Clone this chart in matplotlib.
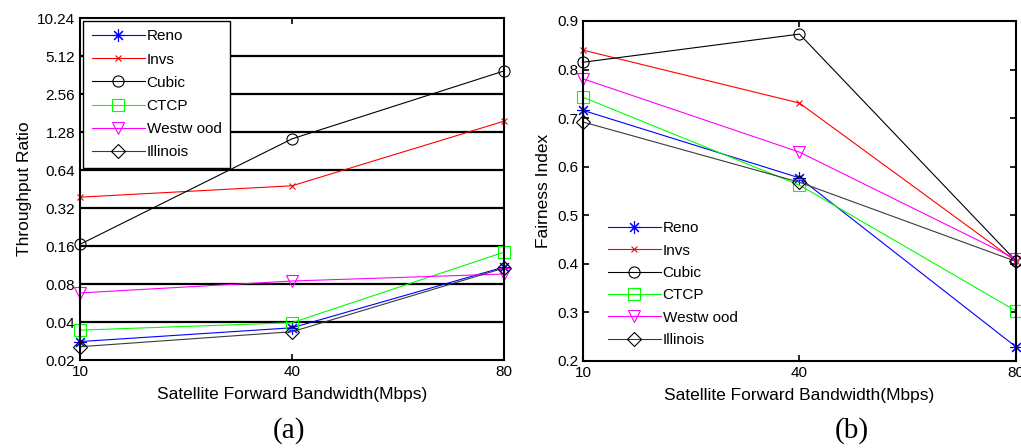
import numpy as np
import matplotlib
matplotlib.use("Agg")
from matplotlib import pyplot as plt

plt.rcParams['font.family'] = ['Liberation Sans', 'DejaVu Sans']

# bandwidth categories (equally spaced on the x axis)
bandwidths = ['10', '40', '80']
names = ['Reno', 'Invs', 'Cubic', 'CTCP', 'Westw ood', 'Illinois']

# (a) throughput ratio (log2 axis)
thr_reno = [0.028, 0.036, 0.109]
thr_invs = [0.39, 0.48, 1.56]
thr_cubic = [0.165, 1.13, 3.9]
thr_ctcp = [0.0345, 0.0395, 0.143]
thr_westwood = [0.068, 0.0845, 0.096]
thr_illinois = [0.0255, 0.0335, 0.107]

# (b) fairness index
fair_reno = [0.716, 0.577, 0.229]
fair_invs = [0.84, 0.731, 0.405]
fair_cubic = [0.815, 0.873, 0.406]
fair_ctcp = [0.743, 0.562, 0.303]
fair_westwood = [0.781, 0.63, 0.41]
fair_illinois = [0.692, 0.568, 0.405]

yticks_a = [0.02, 0.04, 0.08, 0.16, 0.32, 0.64, 1.28, 2.56, 5.12, 10.24]
yticks_b = [0.2, 0.3, 0.4, 0.5, 0.6, 0.7, 0.8, 0.9]

# colour, marker, marker size for each protocol
styles = [
    ('#0000ff', (8, 2, 0), 9),
    ('#ff0000', 'x', 5),
    ('#000000', 'o', 8),
    ('#00ff00', 's', 9),
    ('#ff00ff', 'v', 9),
    ('#3a3a3a', 'D', 7),
]

def draw(ax, series):
    x = np.arange(len(bandwidths))
    for vals, name, (col, mk, ms) in zip(series, names, styles):
        mec = '#000000' if name == 'Illinois' else col
        ax.plot(x, vals, color=col, lw=0.8, marker=mk, ms=ms,
                mfc='none', mec=mec, mew=0.8, label=name, clip_on=False)
    ax.set_xticks(x)
    ax.set_xticklabels(bandwidths)
    ax.set_xlim(0, len(bandwidths) - 1)
    ax.tick_params(direction='in', top=True, right=True, labelsize=11,
                   length=4, width=1.2)
    for s in ax.spines.values():
        s.set_linewidth(1.5)
    ax.set_xlabel('Satellite Forward Bandwidth(Mbps)', fontsize=12.5, labelpad=6)

fig = plt.figure(figsize=(10.21, 4.48), dpi=100)
ax1 = fig.add_axes([0.0784, 0.1964, 0.4153, 0.7634])
ax2 = fig.add_axes([0.571, 0.1942, 0.4241, 0.759])

# (a)
ax1.set_yscale('log', base=2)
ax1.set_ylim(0.02, 10.24)
for t in yticks_a[1:-1]:
    ax1.axhline(t, color='black', lw=1.6, zorder=0)
draw(ax1, [thr_reno, thr_invs, thr_cubic, thr_ctcp, thr_westwood, thr_illinois])
ax1.set_yticks(yticks_a)
ax1.set_yticklabels([f'{t:g}' for t in yticks_a])
ax1.minorticks_off()
ax1.set_ylabel('Throughput Ratio', fontsize=12.5, labelpad=4)
leg1 = ax1.legend(loc='upper left', fontsize=11, handlelength=3.5,
                  handletextpad=0.1, labelspacing=0.6, borderaxespad=0.2,
                  fancybox=False, framealpha=1, edgecolor='black',
                  borderpad=0.55)
leg1.get_frame().set_linewidth(1.0)
leg1.set_zorder(5)

# (b)
draw(ax2, [fair_reno, fair_invs, fair_cubic, fair_ctcp, fair_westwood, fair_illinois])
ax2.set_ylim(0.2, 0.9)
ax2.set_yticks(yticks_b)
ax2.set_yticklabels([f'{t:g}' for t in yticks_b])
ax2.set_ylabel('Fairness Index', fontsize=12.5, labelpad=4)
ax2.legend(loc='lower left', bbox_to_anchor=(0.025, 0.0), fontsize=11,
           handlelength=3.5, handletextpad=0.1, labelspacing=0.55,
           frameon=False)

fig.text(0.283, 0.04, '(a)', family='Liberation Serif', fontsize=21,
         ha='center', va='center')
fig.text(0.834, 0.04, '(b)', family='Liberation Serif', fontsize=21,
         ha='center', va='center')

fig.savefig('out.png', dpi=100)
